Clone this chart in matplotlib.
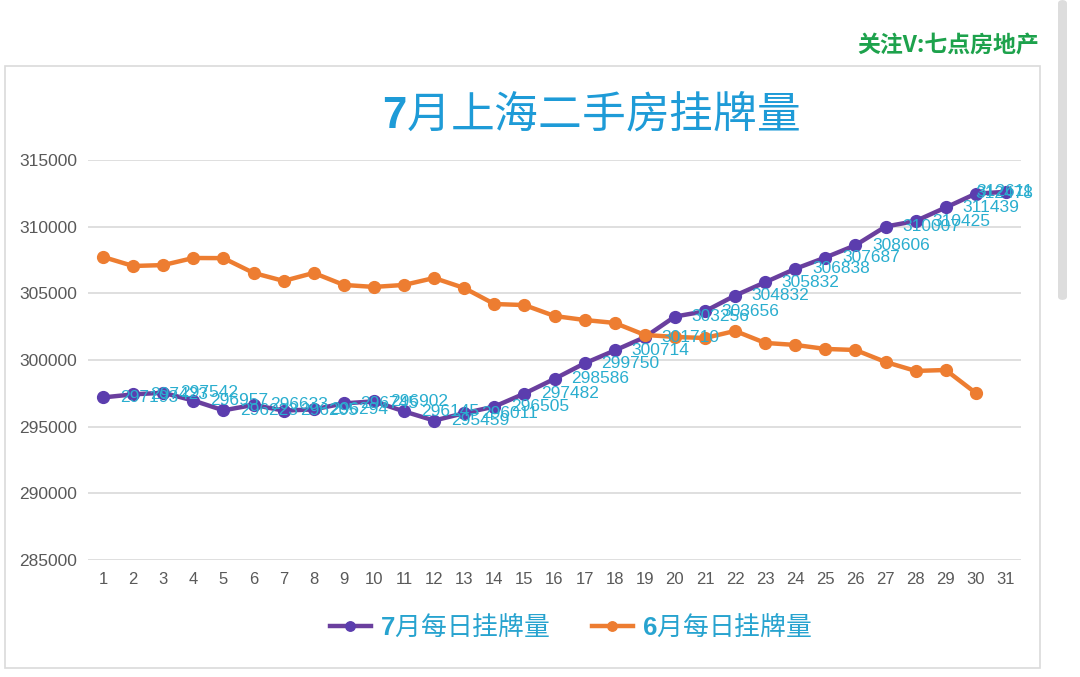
import matplotlib
matplotlib.use("Agg")
import matplotlib.pyplot as plt
from matplotlib.patches import Rectangle, FancyBboxPatch

# ------------------------------------------------------------
# Data
# ------------------------------------------------------------
days = list(range(1, 32))
tick_labels = [str(d) for d in days]

july_counts = [297193, 297423, 297542, 296957, 296223, 296633, 296205, 296294,
               296745, 296902, 296145, 295459, 296011, 296505, 297482, 298586,
               299750, 300714, 301710, 303256, 303656, 304832, 305832, 306838,
               307687, 308606, 310007, 310425, 311439, 312478, 312611]

june_counts = [307730, 307050, 307120, 307650, 307640, 306530, 305930, 306530,
               305630, 305480, 305630, 306150, 305400, 304200, 304120, 303300,
               303000, 302780, 301880, 301730, 301650, 302180, 301280, 301130,
               300830, 300750, 299850, 299180, 299250, 297520]

y_ticks = [285000, 290000, 295000, 300000, 305000, 310000, 315000]

# ------------------------------------------------------------
# Style
# ------------------------------------------------------------
plt.rcParams["font.family"] = ["Noto Sans CJK SC", "DejaVu Sans"]
plt.rcParams["mathtext.fontset"] = "custom"
plt.rcParams["mathtext.bf"] = "Liberation Sans:bold"

PURPLE = "#6A3F9E"
PURPLE_MK = "#5B3DAE"
ORANGE = "#ED7D31"
CYAN_TITLE = "#1E9BD7"
CYAN_LEG = "#27A3CF"
CYAN_LBL = "#2AAECF"
GREY_TXT = "#595959"
GRID = "#D9D9D9"

W, H = 1080, 677
fig = plt.figure(figsize=(W / 100, H / 100), dpi=100)
fig.patch.set_facecolor("white")

# chart frame + scrollbar (screenshot decorations)
fig.patches.append(Rectangle((5 / W, 1 - 668 / H), 1035 / W, 602 / H,
                             transform=fig.transFigure, fill=False,
                             edgecolor="#DADADA", lw=1.2))
fig.patches.append(FancyBboxPatch((1058 / W, 1 - 300 / H), 9 / W, 300 / H,
                                  boxstyle="round,pad=0,rounding_size=0.005",
                                  transform=fig.transFigure,
                                  facecolor="#DDDDDD", edgecolor="none"))

ax = fig.add_axes([88 / W, 1 - 560 / H, (1021 - 88) / W, 400 / H])

ax.plot(days, july_counts, color=PURPLE, lw=3.2, marker="o", ms=8.5,
        mfc=PURPLE_MK, mec=PURPLE_MK, zorder=3, label=r"$\mathbf{7}$月每日挂牌量")
ax.plot(days[:len(june_counts)], june_counts, color=ORANGE, lw=3.2, marker="o",
        ms=8.5, mfc=ORANGE, mec=ORANGE, zorder=4, label=r"$\mathbf{6}$月每日挂牌量")

ax.set_xlim(0.5, 31.5)
ax.set_ylim(285000, 315000)
ax.set_xticks(days)
ax.set_xticklabels(tick_labels)
ax.set_yticks(y_ticks)
ax.set_yticklabels([str(v) for v in y_ticks])
ax.grid(axis="y", color=GRID, lw=1.2)
ax.set_axisbelow(True)
for s in ax.spines.values():
    s.set_visible(False)
ax.tick_params(axis="both", length=0, colors=GREY_TXT)
ax.tick_params(axis="y", pad=8)
ax.tick_params(axis="x", pad=9)
for t in ax.get_yticklabels():
    t.set_fontfamily("Liberation Sans")
    t.set_fontsize(12.5)
for t in ax.get_xticklabels():
    t.set_fontfamily("Liberation Sans")
    t.set_fontsize(12)

# ------------------------------------------------------------
# Data labels (right of July points, kept inside the chart area)
# ------------------------------------------------------------
renderer = fig.canvas.get_renderer()
right_limit = 1033
for d, v in zip(days, july_counts):
    t = ax.annotate(str(v), (d, v), xytext=(12, 0), textcoords="offset points",
                    ha="left", va="center", color=CYAN_LBL, fontsize=12.5,
                    family="Liberation Sans", zorder=6)
    bb = t.get_window_extent(renderer)
    if bb.x1 > right_limit:
        t.xyann = (12 - (bb.x1 - right_limit) * 0.72, 0)

# ------------------------------------------------------------
# Title, legend, watermark
# ------------------------------------------------------------
fig.text(591 / W, 1 - 115 / H, r"$\mathbf{7}$月上海二手房挂牌量", ha="center",
         va="center", fontsize=31.5, color=CYAN_TITLE)

fig.legend(loc="center", bbox_to_anchor=(571 / W, 1 - 627 / H), ncol=2,
           frameon=False, fontsize=18.6, labelcolor=CYAN_LEG, handlelength=1.6,
           handletextpad=0.35, columnspacing=1.6, markerscale=0.8)

fig.text(1039 / W, 1 - 45 / H, "关注V:七点房地产", ha="right", va="center",
         fontsize=16.5, weight="bold", color="#1DA24C")

fig.savefig("out.png", dpi=100, facecolor="white")
